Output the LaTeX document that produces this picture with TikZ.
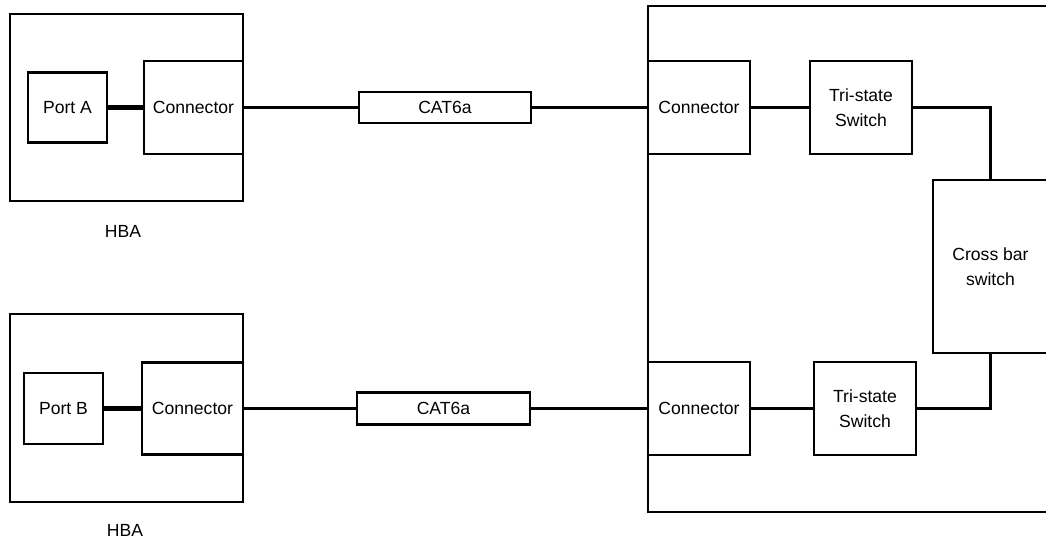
\documentclass[tikz,border=0pt]{standalone}
\usepackage{fontspec}
\setmainfont{Liberation Sans}
\usetikzlibrary{positioning}
\tikzset{
  blk/.style 2 args={draw, line width=1.2pt, minimum width=#1*0.02cm, minimum height=#2*0.02cm, align=center, inner sep=0pt},
  wire/.style={line width=1.3pt},
  fatwire/.style={line width=2.4pt}
}

\begin{document}
\begin{tikzpicture}[x=0.02cm, y=-0.02cm, font=\fontsize{10}{14}\selectfont]
\useasboundingbox (0,0) rectangle (1046,540);
% switch chassis, runs off the right side
\node[blk={412}{506}] (chassis) at (854,259) {};
% host adapters
\node[blk={233}{187}] (hbaA) at (126.5,107.5) {};
\node[blk={79}{70}] (portA) at (67.5,107.5) {Port A};
\node[blk={99}{93}] (connA) at (193.5,107.5) {Connector};
\node (hbaAname) at (123,231) {HBA};
\node[blk={233}{188}] (hbaB) at (126.5,408) {};
\node[blk={79}{71}] (portB) at (63.5,408.5) {Port B};
\node[blk={101}{92}] (connB) at (192.5,408.5) {Connector};
\node (hbaBname) at (125,530) {HBA};
% cables
\node[blk={172}{31}] (cableA) at (445,107.5) {CAT6a};
\node[blk={173}{32}] (cableB) at (443.5,408.5) {CAT6a};
% switch side
\node[blk={102}{93}] (swconnA) at (699,107.5) {Connector};
\node[blk={102}{93}] (triA) at (861,107.5) {Tri-state\\Switch};
\node[blk={102}{93}] (swconnB) at (699,408.5) {Connector};
\node[blk={102}{93}] (triB) at (865,408.5) {Tri-state\\Switch};
\node[blk={115}{173}] (xbar) at (990.5,266.5) {Cross bar\\switch};
\draw[fatwire] (portA) -- (connA);
\draw[fatwire] (portB) -- (connB);
\draw[wire] (connA) -- (cableA) -- (swconnA) -- (triA);
\draw[wire] (connB) -- (cableB) -- (swconnB) -- (triB);
\draw[wire] (triA.east) -| (xbar.north);
\draw[wire] (triB.east) -| (xbar.south);
\end{tikzpicture}
\end{document}
